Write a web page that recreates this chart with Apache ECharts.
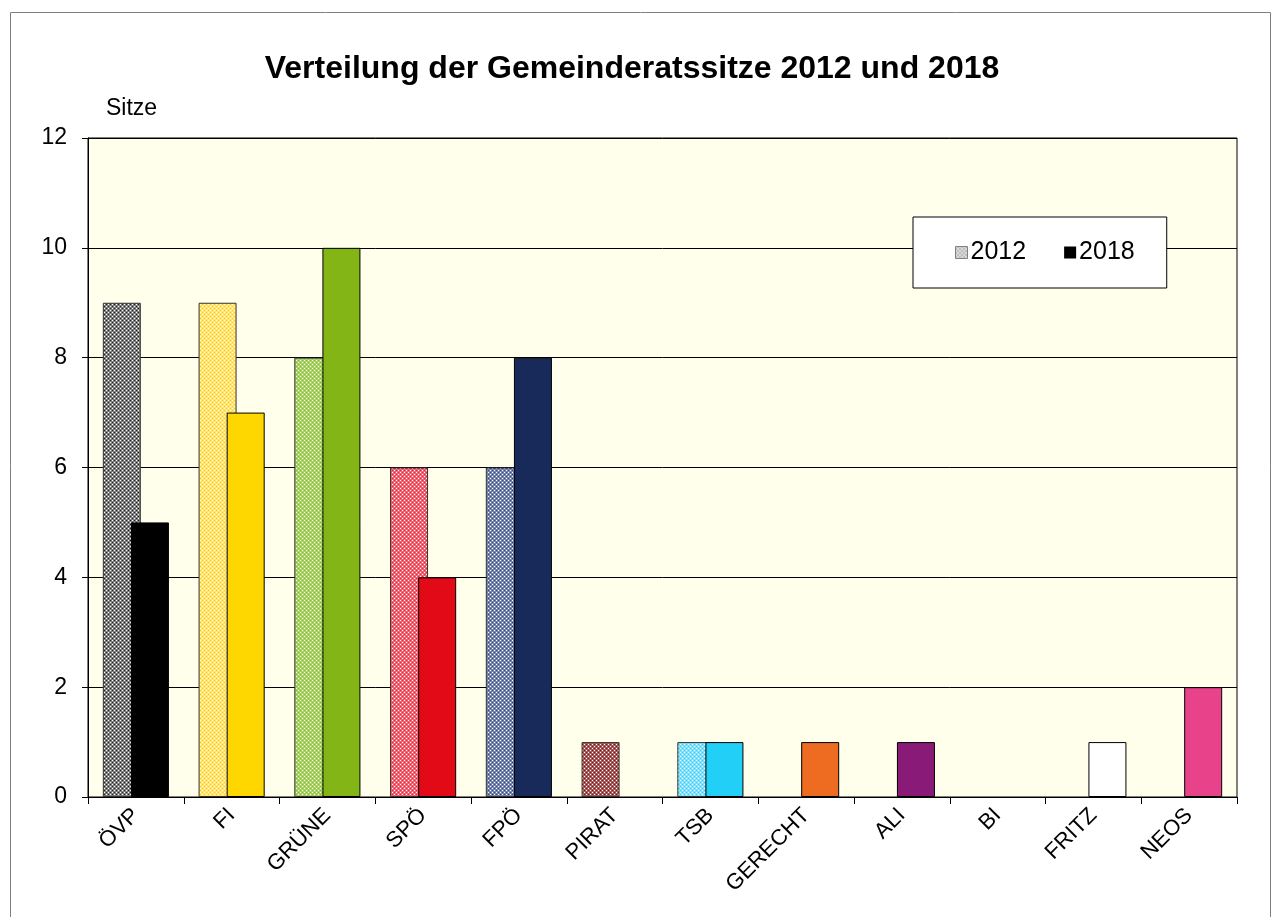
<!DOCTYPE html>
<html>
<head>
<meta charset="utf-8">
<script src="https://cdn.jsdelivr.net/npm/echarts@6/dist/echarts.min.js"></script>
<style>
  html, body { margin: 0; padding: 0; background: #fff; }
  #chart { width: 1272px; height: 917px; }
</style>
</head>
<body>
<div id="chart"></div>
<script>
// Daten
const parteien = ['ÖVP', 'FI', 'GRÜNE', 'SPÖ', 'FPÖ', 'PIRAT', 'TSB', 'GERECHT', 'ALI', 'BI', 'FRITZ', 'NEOS'];
const sitze2012 = [9, 9, 8, 6, 6, 1, 1, 0, 0, 0, 0, 0];
const sitze2018 = [5, 7, 10, 4, 8, 0, 1, 1, 1, 0, 1, 2];
const yTicks = [0, 2, 4, 6, 8, 10, 12];

// Farben (2018 voll, 2012 kariert)
const farben2018 = ['#000000', '#FFD700', '#84B516', '#E30A17', '#172A5A', '#8B4A4A', '#22D0F7', '#EE6C22', '#8A1A78', '#999999', '#FFFFFF', '#E8428A'];
const karo2012 = [
  ['#808080', '#ffffff', '#202020'],
  ['#FFE36A', '#ffffff', '#F8D030'],
  ['#A9D264', '#ffffff', '#88B838'],
  ['#F06473', '#ffffff', '#D83040'],
  ['#7585AD', '#ffffff', '#3A4A78'],
  ['#A85A5A', '#ffffff', '#6A2020'],
  ['#7FE2FC', '#ffffff', '#40C8F0'],
  ['#F4A070', '#ffffff', '#EE6C22'],
  ['#B060A0', '#ffffff', '#8A1A78'],
  ['#cccccc', '#ffffff', '#999999'],
  ['#eeeeee', '#ffffff', '#cccccc'],
  ['#F080B0', '#ffffff', '#E8428A']
];

// kleines Karomuster als Canvas
function karo(base, hell, dunkel) {
  const c = document.createElement('canvas');
  c.width = 4; c.height = 4;
  const ctx = c.getContext('2d');
  ctx.fillStyle = base;
  ctx.fillRect(0, 0, 4, 4);
  ctx.fillStyle = hell;
  ctx.fillRect(0, 0, 1, 1);
  ctx.fillRect(2, 2, 1, 1);
  ctx.fillStyle = dunkel;
  ctx.fillRect(2, 0, 1, 1);
  ctx.fillRect(0, 2, 1, 1);
  return { image: c, repeat: 'repeat' };
}

const font = "'Liberation Sans', Arial, sans-serif";
const myChart = echarts.init(document.getElementById('chart'));

const option = {
  animation: false,
  backgroundColor: '#ffffff',
  textStyle: { fontFamily: font },
  title: {
    text: 'Verteilung der Gemeinderatssitze 2012 und 2018',
    left: 627,
    textAlign: 'center',
    top: 48,
    textStyle: { fontSize: 32, fontWeight: 'bold', color: '#000', fontFamily: font }
  },
  graphic: [
    {
      type: 'rect',
      shape: { x: 10.5, y: 12.5, width: 1260, height: 920 },
      style: { fill: 'none', stroke: '#808080', lineWidth: 1 },
      z: -10
    },
    {
      type: 'text',
      left: 106,
      top: 97,
      style: { text: 'Sitze', fontSize: 23, fill: '#000', fontFamily: font }
    }
  ],
  legend: {
    left: 913,
    top: 217,
    orient: 'horizontal',
    backgroundColor: '#ffffff',
    borderColor: '#000',
    borderWidth: 1,
    borderRadius: 0,
    padding: [23, 32, 23, 42],
    itemWidth: 12,
    itemHeight: 12,
    itemGap: 38,
    textStyle: { fontSize: 25, color: '#000', fontFamily: font, padding: [0, 0, 0, -2] },
    data: [
      { name: '2012', icon: 'rect', itemStyle: { color: karo('#cccccc', '#ffffff', '#999999'), borderColor: '#808080', borderWidth: 1 } },
      { name: '2018', icon: 'rect', itemStyle: { color: '#000', borderWidth: 0 } }
    ]
  },
  grid: {
    left: 88,
    top: 138,
    width: 1149,
    height: 659,
    show: true,
    backgroundColor: '#FFFFEB',
    borderColor: '#000',
    borderWidth: 1
  },
  xAxis: {
    type: 'category',
    data: parteien,
    boundaryGap: true,
    axisLine: { lineStyle: { color: '#000', width: 1 } },
    axisTick: { show: true, length: 7, lineStyle: { color: '#000' } },
    axisLabel: { rotate: 45, fontSize: 22, color: '#000', margin: 15, fontFamily: font, interval: 0 }
  },
  yAxis: {
    type: 'value',
    min: 0,
    max: 12,
    interval: 2,
    axisLine: { show: true, lineStyle: { color: '#000', width: 1 } },
    axisTick: { show: true, length: 6, lineStyle: { color: '#000' } },
    axisLabel: {
      fontSize: 23, color: '#000', margin: 21, fontFamily: font,
      formatter: v => (yTicks.includes(v) ? String(v) : '')
    },
    splitLine: { show: true, lineStyle: { color: '#000', width: 1 } }
  },
  series: [
    {
      name: '2012',
      type: 'bar',
      barWidth: 38,
      barGap: '-26%',
      data: sitze2012.map((v, i) => ({
        value: v,
        itemStyle: {
          color: karo(...karo2012[i]),
          borderColor: '#333',
          borderWidth: v > 0 ? 1 : 0
        }
      })),
      z: 2
    },
    {
      name: '2018',
      type: 'bar',
      barWidth: 38,
      data: sitze2018.map((v, i) => ({
        value: v,
        itemStyle: {
          color: farben2018[i],
          borderColor: '#000',
          borderWidth: v > 0 ? 1 : 0
        }
      })),
      z: 3
    }
  ]
};

myChart.setOption(option);
</script>
</body>
</html>
